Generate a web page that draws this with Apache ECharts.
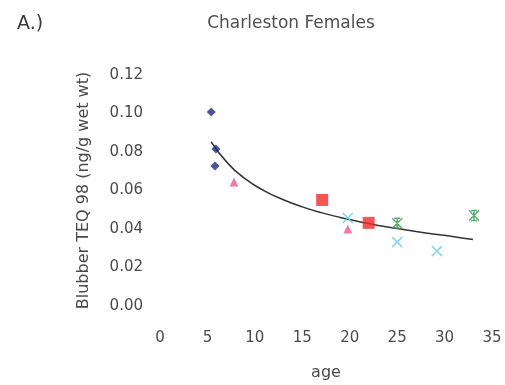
<!DOCTYPE html>
<html>
<head>
<meta charset="utf-8">
<script src="https://cdn.jsdelivr.net/npm/echarts@6/dist/echarts.min.js"></script>
<style>
html,body{margin:0;padding:0;background:#fff;}
#chart{width:505px;height:385px;}
</style>
</head>
<body>
<div id="chart"></div>
<script>
// Data
var xTicks = [0, 5, 10, 15, 20, 25, 30, 35];
var yTicks = [0.00, 0.02, 0.04, 0.06, 0.08, 0.10, 0.12];
var navyDiamonds = [[5.4, 0.1008], [5.9, 0.0816], [5.8, 0.0727]];
var pinkTriangles = [[7.8, 0.0644], [19.8, 0.0400]];
var redSquares = [[17.1, 0.0551], [22.0, 0.0432]];
var cyanCrosses = [[19.8, 0.0457], [25.0, 0.0332], [29.2, 0.0286]];
var greenStars = [[25.0, 0.0430], [33.1, 0.0470]];
var trendAges = [5.4, 7, 9, 11, 13, 15, 17, 19, 21, 23, 25, 27, 29, 31, 33];
var trendValues = [0.0852, 0.0750, 0.0660, 0.0598, 0.0552, 0.0515, 0.0485, 0.0460, 0.0438, 0.0418, 0.0402, 0.0387, 0.0373, 0.0360, 0.0345];

var trend = trendAges.map(function (a, i) { return [a, trendValues[i]]; });

var chart = echarts.init(document.getElementById('chart'), null, {renderer: 'canvas'});
var font = '"DejaVu Sans", sans-serif';
var textCol = '#4a4a4a';

chart.setOption({
  animation: false,
  backgroundColor: '#fff',
  title: [
    {text: 'Charleston Females', left: 286, top: 10, textAlign: 'center',
     textStyle: {fontFamily: font, fontSize: 17, fontWeight: 'normal', color: '#505050'}},
    {text: 'A.)', left: 12, top: 10,
     textStyle: {fontFamily: font, fontSize: 19, fontWeight: 'normal', color: '#3a3a3a'}}
  ],
  grid: {left: 160, top: 75, width: 332, height: 231, containLabel: false, outerBoundsMode: 'none'},
  xAxis: {
    type: 'value', min: 0, max: 35, interval: 5,
    name: 'age', nameLocation: 'middle', nameGap: 59,
    nameTextStyle: {fontFamily: font, fontSize: 16, color: textCol},
    axisLine: {show: false}, axisTick: {show: false}, splitLine: {show: false},
    axisLabel: {margin: 25, fontFamily: font, fontSize: 15, color: textCol}
  },
  yAxis: {
    type: 'value', min: 0, max: 0.12, interval: 0.02,
    name: 'Blubber TEQ 98 (ng/g wet wt)', nameLocation: 'middle', nameGap: 68,
    nameRotate: 90,
    nameTextStyle: {fontFamily: font, fontSize: 16, color: textCol},
    axisLine: {show: false}, axisTick: {show: false}, splitLine: {show: false},
    axisLabel: {margin: 17, fontFamily: font, fontSize: 15, color: textCol,
      formatter: function (v) { return v.toFixed(2); }}
  },
  series: [
    {type: 'line', data: trend, smooth: true, showSymbol: false, symbol: 'none',
     lineStyle: {color: '#333', width: 1.5}, z: 1},
    {type: 'scatter', data: navyDiamonds, symbol: 'diamond', symbolSize: 9,
     itemStyle: {color: '#1f2a7a'}, z: 3},
    {type: 'scatter', data: pinkTriangles, symbol: 'triangle', symbolSize: 9,
     itemStyle: {color: '#ee5a92'}, z: 3},
    {type: 'scatter', data: redSquares, symbol: 'rect', symbolSize: 12,
     itemStyle: {color: '#ee2a2a'}, z: 3},
    {type: 'scatter', data: cyanCrosses, symbol: 'path://M0,0L10,10M10,0L0,10', symbolSize: 10,
     itemStyle: {color: 'none', borderColor: '#5cc8e8', borderWidth: 1.5}, z: 3},
    {type: 'scatter', data: greenStars, symbol: 'path://M0,0L10,10M10,0L0,10M5,0L5,10M2,0L8,0M2,10L8,10', symbolSize: 10,
     itemStyle: {color: 'none', borderColor: '#3a9a50', borderWidth: 1.5}, z: 3}
  ]
});
</script>
</body>
</html>
